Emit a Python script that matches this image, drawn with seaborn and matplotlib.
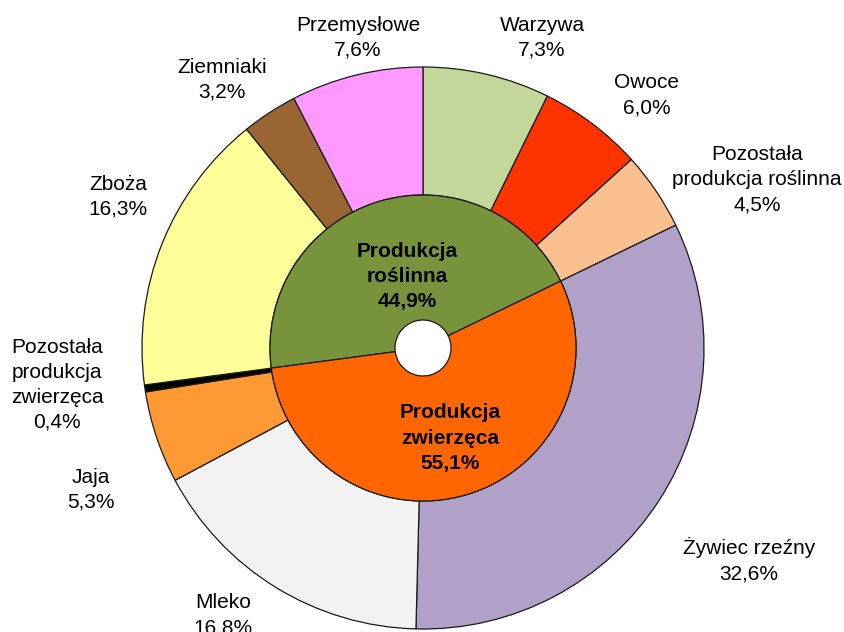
import matplotlib
matplotlib.use("Agg")
import matplotlib.pyplot as plt
import seaborn as sns

# ─── Data ─────────────────────────────────────────────────────────
outer_labels = ["Warzywa", "Owoce", "Pozostała\nprodukcja roślinna", "Żywiec rzeźny",
                "Mleko", "Jaja", "Pozostała\nprodukcja\nzwierzęca", "Zboża",
                "Ziemniaki", "Przemysłowe"]
outer_values = [7.3, 6.0, 4.5, 32.6, 16.8, 5.3, 0.4, 16.3, 3.2, 7.6]
outer_colors = ["#C4D79B", "#FF3300", "#FAC090", "#B1A0C7", "#F2F2F2",
                "#FF9933", "#000000", "#FFFF99", "#996633", "#FF99FF"]

inner_labels = ["Produkcja\nroślinna", "Produkcja\nzwierzęca"]
inner_values = [44.9, 55.1]
inner_colors = ["#77933C", "#FF6600"]

# label positions in pixel coords (x, y from top)
outer_pos = [(542, 38), (647, 95), (757, 180), (749, 560), (223, 615),
             (91, 490), (57, 385), (118, 197), (222, 80), (358, 38)]
inner_pos = [(407, 277), (450, 438)]

W, H = 845, 632
CX, CY = 423, 348
R_OUT, R_MID, R_HOLE = 281, 153, 28

sns.set_theme(style="white")
plt.rcParams["font.family"] = ["Liberation Sans", "DejaVu Sans"]

fig = plt.figure(figsize=(W / 100, H / 100), dpi=100)
ax = fig.add_axes([0, 0, 1, 1])

edge = dict(edgecolor="#1a1a1a", linewidth=0.9)
ax.pie(outer_values, colors=outer_colors, startangle=90, counterclock=False,
       radius=R_OUT, center=(CX, H - CY),
       wedgeprops=dict(width=R_OUT - R_MID, **edge), frame=True)

# plant ring starts where Zboża starts in the outer ring (last 3 outer slices)
plant_tail = sum(outer_values[-3:])
inner_start = 90 + plant_tail / sum(outer_values) * 360
ax.pie(inner_values, colors=inner_colors, startangle=inner_start, counterclock=False,
       radius=R_MID, center=(CX, H - CY),
       wedgeprops=dict(width=R_MID - R_HOLE, **edge), frame=True)
ax.set_xlim(0, W)
ax.set_ylim(0, H)
ax.set_aspect("equal")
ax.axis("off")

def fmt(v):
    return f"{v:.1f}".replace(".", ",") + "%"

for lab, val, (x, y) in zip(outer_labels, outer_values, outer_pos):
    ax.text(x, H - y, f"{lab}\n{fmt(val)}", ha="center", va="center",
            fontsize=15, color="#000000", linespacing=1.4)

for lab, val, (x, y) in zip(inner_labels, inner_values, inner_pos):
    ax.text(x, H - y, f"{lab}\n{fmt(val)}", ha="center", va="center",
            fontsize=15, fontweight="bold", color="#000000", linespacing=1.4)

plt.savefig("out.png", dpi=100)
plt.close()
